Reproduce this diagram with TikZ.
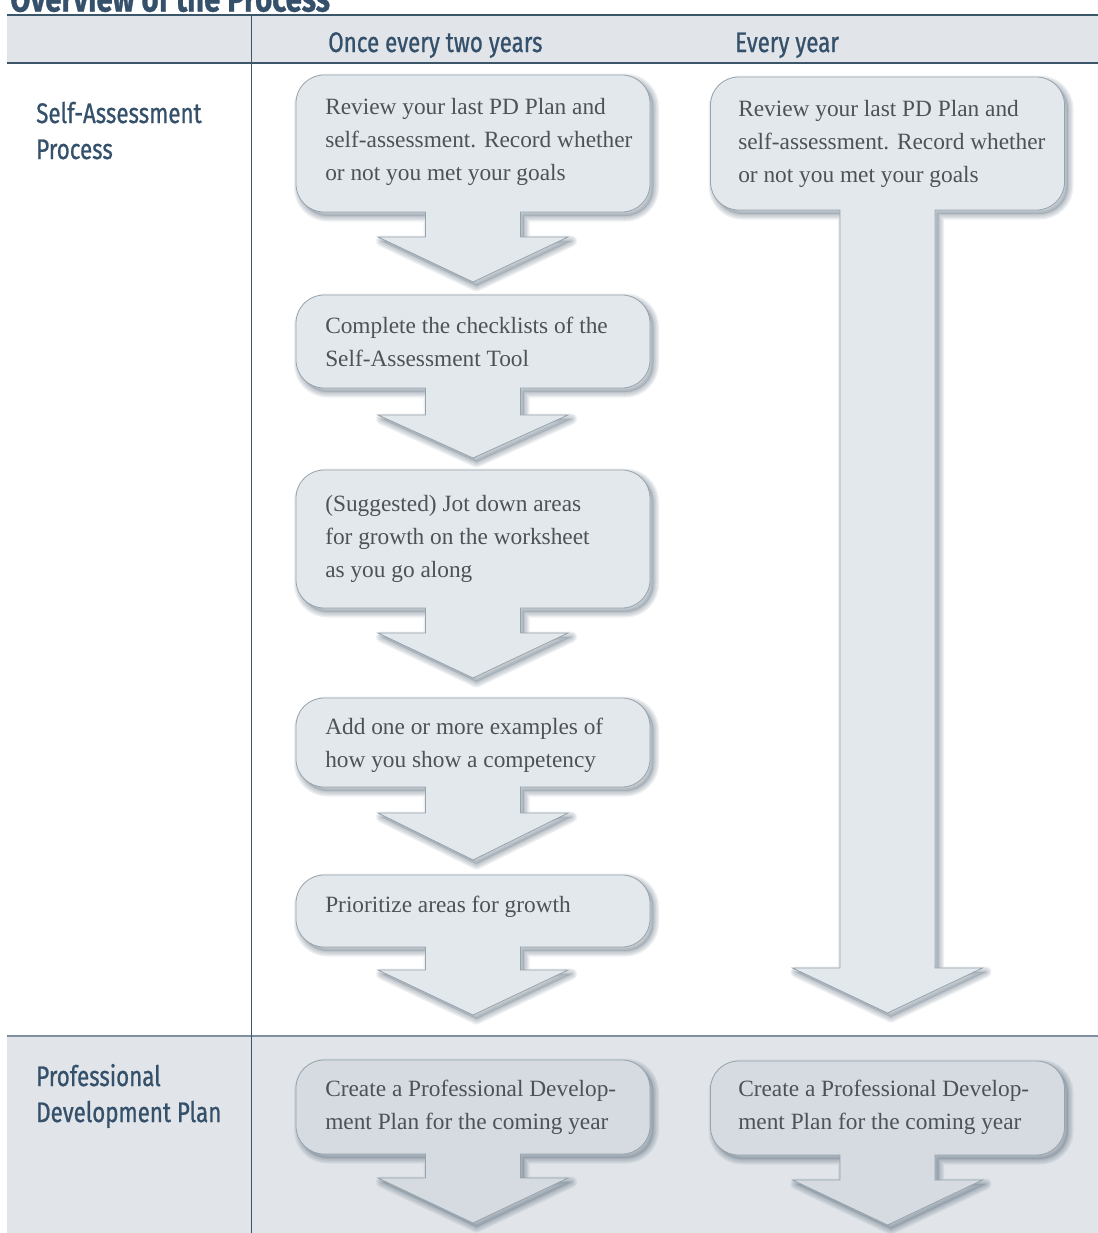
\documentclass[tikz,border=0pt]{standalone}
\usepackage{fontspec}
\setmainfont{Liberation Serif}
\newfontfamily\hdfont[FakeStretch=0.79,FakeBold=0.8]{Fira Sans}
\definecolor{navy}{HTML}{34506A}
\definecolor{rulec}{HTML}{3B5569}
\definecolor{rulelight}{HTML}{7D8FA0}
\definecolor{bandc}{HTML}{E1E5E9}
\definecolor{boxfill}{HTML}{E3E8EC}
\definecolor{boxfilldark}{HTML}{D5DBE1}
\definecolor{boxline}{HTML}{97A3AD}
\definecolor{boxtext}{HTML}{4C5358}
\definecolor{shc}{HTML}{465A6B}
\tikzset{
  callout/.style={fill=boxfill, draw=boxline, line width=0.6pt},
  calloutdark/.style={callout, fill=boxfilldark},
  shadowring/.style={draw=shc, draw opacity=0.1, line join=round, shift={(3.5,4)}},
  shadowcore/.style={fill=shc, fill opacity=0.2, shift={(3.5,4)}},
  boxtxt/.style={anchor=base west, inner sep=0pt, align=left, text=boxtext,
    font=\fontsize{17.5pt}{24.75pt}\selectfont},
  hdtxt/.style={anchor=base west, inner sep=0pt, align=left, text=navy,
    font=\hdfont\fontsize{21.2pt}{27pt}\selectfont},
  titletxt/.style={anchor=base west, inner sep=0pt, text=navy,
    font=\hdfont\bfseries\fontsize{27.8pt}{30pt}\selectfont},
}
% #1 centre x, #2 top, #3 box bottom, #4 head top, #5 tip
\newcommand\calloutpath[5]{({#1-149},#2) -- ({#1+149},#2) arc[start angle=270, end angle=360, radius=28]
    -- ({#1+177},{#3-28}) arc[start angle=0, end angle=90, radius=28]
    -- ({#1+47.5},#3) -- ({#1+47.5},#4) -- ({#1+95},#4) -- ({#1},#5)
    -- ({#1-95},#4) -- ({#1-47.5},#4) -- ({#1-47.5},#3) -- ({#1-149},#3)
    arc[start angle=90, end angle=180, radius=28]
    -- ({#1-177},{#2+28}) arc[start angle=180, end angle=270, radius=28] -- cycle}
% #6 style
\newcommand\callout[6]{%
  \foreach \w in {1.5pt,3.75pt,6pt,8.25pt}{%
    \path[shadowring, line width=\w] \calloutpath{#1}{#2}{#3}{#4}{#5};}
  \path[shadowcore] \calloutpath{#1}{#2}{#3}{#4}{#5};
  \path[#6] \calloutpath{#1}{#2}{#3}{#4}{#5};}
\begin{document}
\begin{tikzpicture}[x=0.75pt,y=-0.75pt]
\useasboundingbox (0,0) rectangle (1098,1233);
% bands
\fill[bandc] (7,14.5) rectangle (1098,62.5);
\fill[bandc] (7,1036) rectangle (1098,1233);
% title
\node[titletxt] (title) at (10,11.5) {Overview of the Process};
% rules
\draw[rulec, line width=1.5pt] (7,14.5) -- (1098,14.5);
\draw[rulec, line width=1.5pt] (7,62.5) -- (1098,62.5);
\draw[rulelight, line width=1.5pt] (7,1036) -- (1098,1036);
\draw[rulec, line width=1.1pt] (251.5,14.5) -- (251.5,1233);
% header texts
\node[hdtxt] (h1) at (328,52) {Once every two years};
\node[hdtxt] (h2) at (735,52) {Every year};
\node[hdtxt] (s1) at (36,159) {Self-Assessment\\Process};
\node[hdtxt] (s2) at (36,1122) {Professional\\Development Plan};
% left column callouts
\callout{473}{75}{212}{237}{282}{callout}
\callout{473}{295}{388}{415}{458}{callout}
\callout{473}{470}{608}{633}{678}{callout}
\callout{473}{698}{787}{813}{860}{callout}
\callout{473}{875}{947}{970}{1015}{callout}
\callout{473}{1060}{1154}{1178}{1223}{calloutdark}
% right column callouts
\callout{887.5}{77}{210}{968}{1013}{callout}
\callout{887.5}{1061}{1155}{1180}{1225}{calloutdark}
% box texts (anchor: baseline of last line)
\node[boxtxt] (a1) at (325,180) {Review your last PD Plan and\\self-assessment. Record whether\\or not you met your goals};
\node[boxtxt] (a2) at (325,366) {Complete the checklists of the\\Self-Assessment Tool};
\node[boxtxt] (a3) at (325,577) {(Suggested) Jot down areas\\for growth on the worksheet\\as you go along};
\node[boxtxt] (a4) at (325,767) {Add one or more examples of\\how you show a competency};
\node[boxtxt] (a5) at (325,912) {Prioritize areas for growth};
\node[boxtxt] (a6) at (325,1129) {Create a Professional Develop-\\ment Plan for the coming year};
\node[boxtxt] (b1) at (738,182) {Review your last PD Plan and\\self-assessment. Record whether\\or not you met your goals};
\node[boxtxt] (b2) at (738,1129) {Create a Professional Develop-\\ment Plan for the coming year};
\end{tikzpicture}
\end{document}
